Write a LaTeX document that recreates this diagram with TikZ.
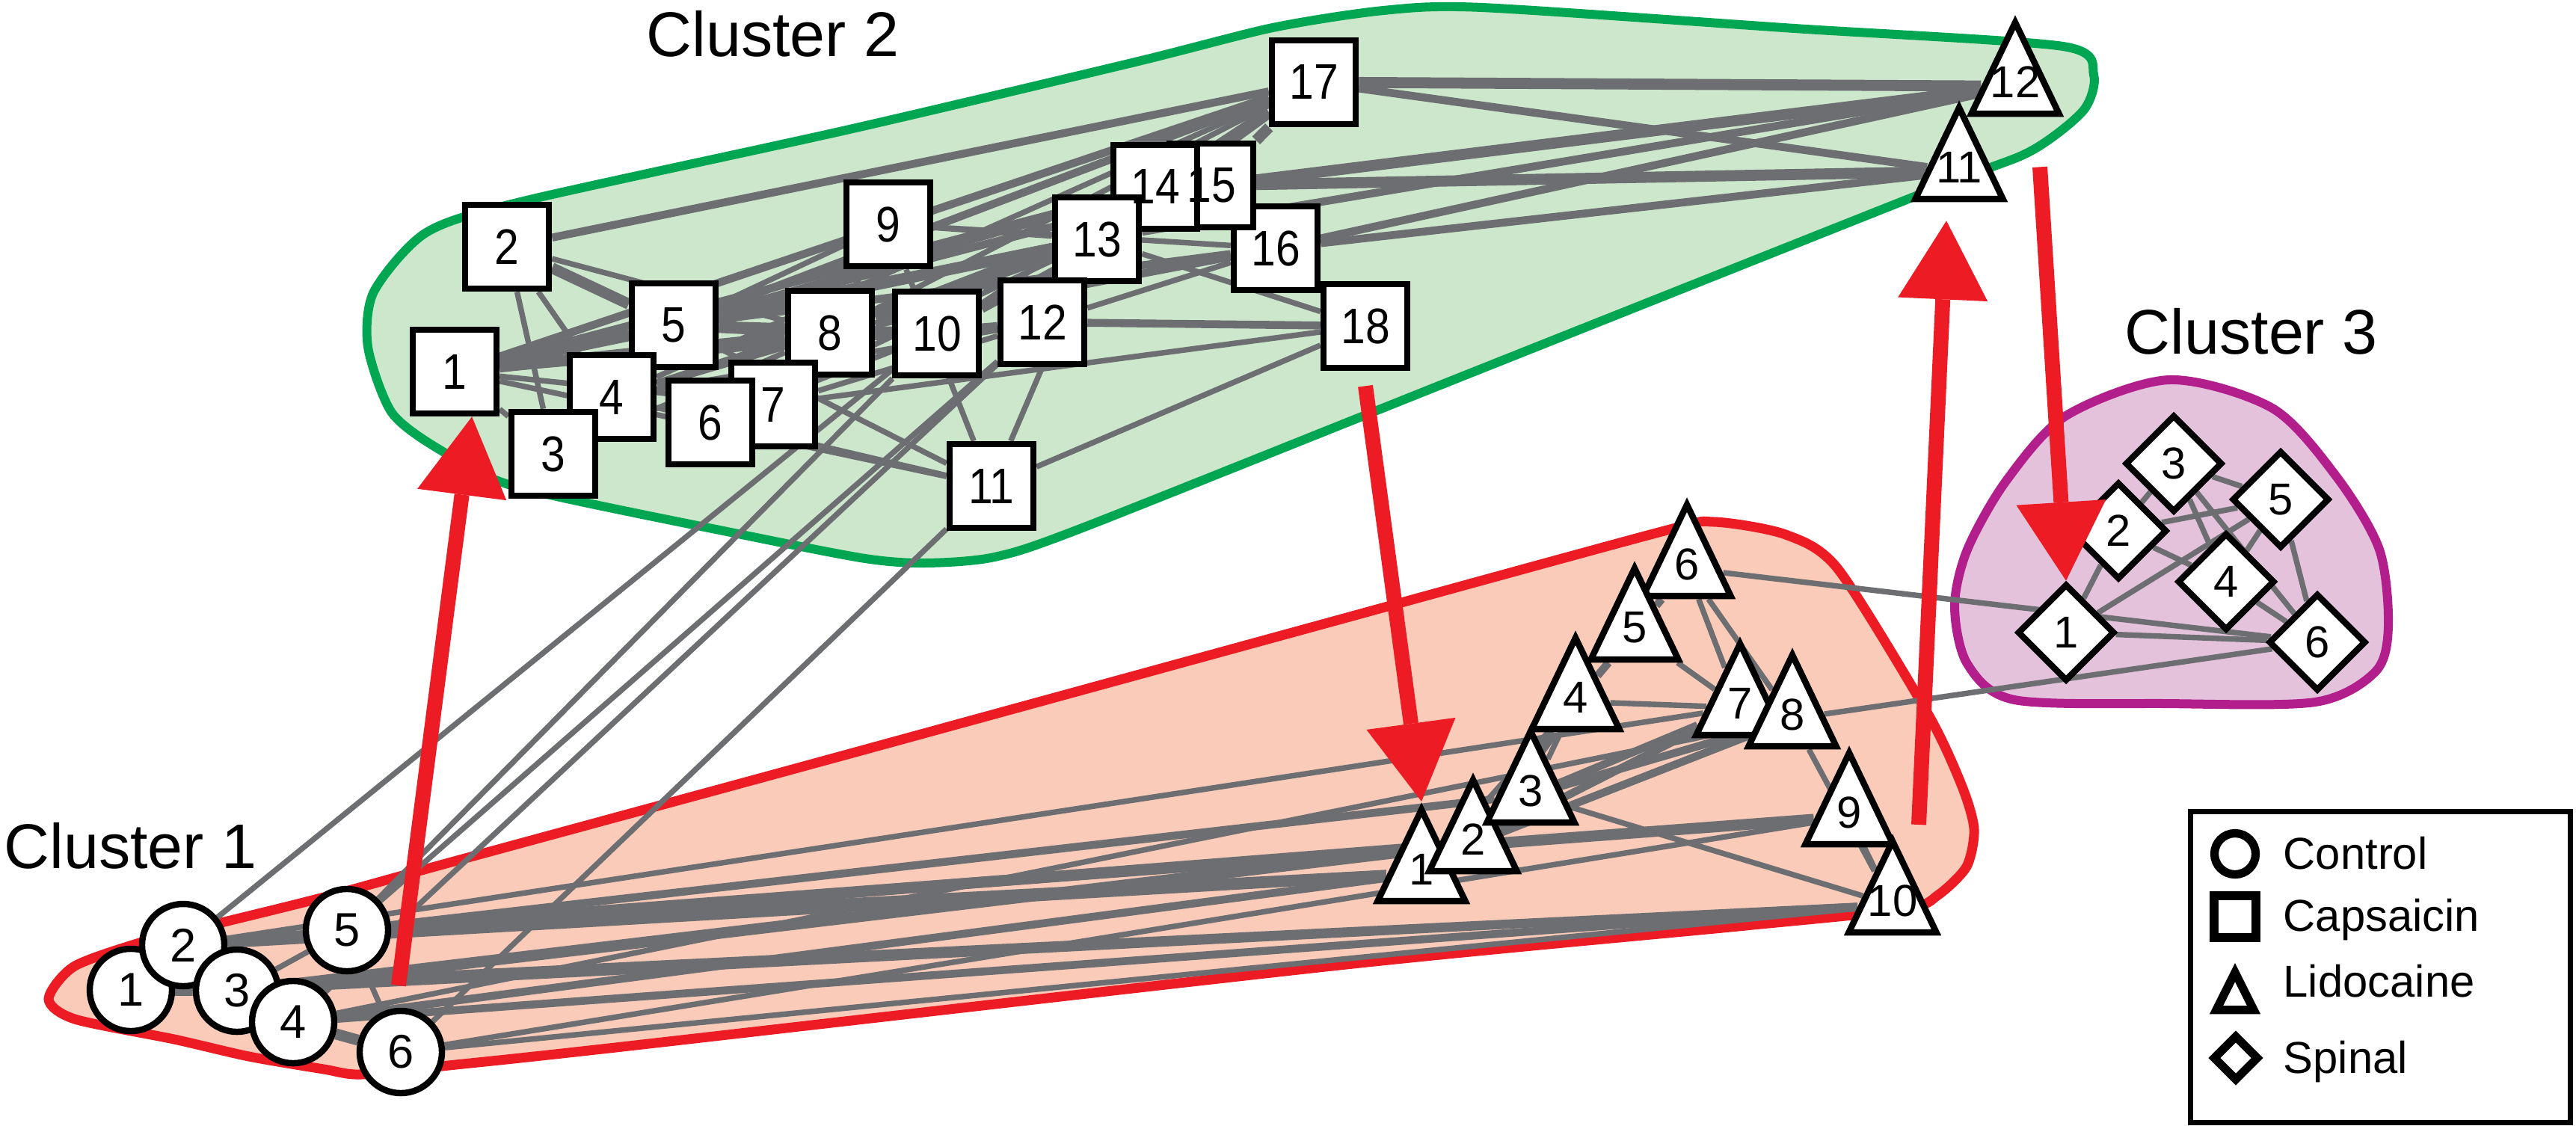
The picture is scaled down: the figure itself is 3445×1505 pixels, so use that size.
\documentclass[tikz,border=0pt]{standalone}
\usepackage{fontspec}
\setmainfont{Liberation Sans}
\usetikzlibrary{shapes.geometric,arrows.meta,calc}
\definecolor{linkgray}{RGB}{109,110,113}
\definecolor{grn}{RGB}{0,166,81}
\definecolor{grnfill}{RGB}{205,231,204}
\definecolor{rd}{RGB}{237,28,36}
\definecolor{rdfill}{RGB}{249,203,184}
\definecolor{prp}{RGB}{178,31,140}
\definecolor{prpfill}{RGB}{228,194,219}
\pgfdeclarelayer{hulls}
\pgfdeclarelayer{links}
\pgfsetlayers{hulls,links,main}
\tikzstyle{ctlnode} = [circle, draw=black, line width=2.4pt, fill=white,
    minimum size=1.1cm, inner sep=0pt, font=\fontsize{18}{18}\selectfont]
\tikzstyle{capbox} = [rectangle, draw=black, line width=2.4pt, fill=white,
    minimum size=1.12cm, inner sep=0pt]
\tikzstyle{caplbl} = [inner sep=0pt, xscale=0.88, font=\fontsize{19}{19}\selectfont]
\tikzstyle{lidnode} = [isosceles triangle, isosceles triangle stretches, shape border rotate=90,
    draw=black, line width=2.4pt, fill=white, minimum width=1.17cm, minimum height=1.22cm,
    inner sep=0pt, anchor=apex]
\tikzstyle{lidlbl} = [inner sep=0pt, font=\fontsize{17}{17}\selectfont]
\tikzstyle{spinode} = [diamond, aspect=1, draw=black, line width=2.4pt, fill=white,
    minimum size=1.3cm, inner sep=0pt, font=\fontsize{17}{17}\selectfont]
\tikzstyle{lnk} = [draw=linkgray, line width=2.1pt]
\tikzstyle{lnkmid} = [draw=linkgray, line width=3pt]
\tikzstyle{lnkbig} = [draw=linkgray, line width=4.2pt]
\tikzstyle{flow} = [draw=rd, line width=0.2cm, -{Triangle[length=1.05cm, width=1.2cm, line width=0pt]}]
\tikzstyle{clustertitle} = [anchor=base west, inner sep=0pt, font=\fontsize{24}{24}\selectfont]
\tikzstyle{keytxt} = [anchor=base west, inner sep=0pt, font=\fontsize{17}{17}\selectfont]
\tikzstyle{keysym} = [draw=black, line width=3.2pt, fill=white, inner sep=0pt]

\begin{document}
\begin{tikzpicture}[x=0.01cm, y=-0.01cm]
\useasboundingbox (0,0) rectangle (3445,1505);

% cluster outlines
\begin{pgfonlayer}{hulls}
\draw[draw=grn, fill=grnfill, line width=0.12cm] plot[smooth cycle, tension=0.45] coordinates {
    (700,269) (1136,173) (1518,83) (1702,37) (1850,14) (1982,10) (2400,38) (2759,62)
    (2800,100) (2786,148) (2714,203) (2580,255) (1964,500) (1450,705) (1330,745)
    (1237,753) (1157,747) (997,716) (690,651) (589,602) (524,552) (492,464) (500,390) (570,311)};
\draw[draw=rd, fill=rdfill, line width=0.13cm] plot[smooth cycle, tension=0.45] coordinates {
    (65,1336) (100,1292) (200,1257) (300,1233) (433,1200) (600,1154) (1100,1018) (1750,840)
    (2222,711) (2292,698) (2388,715) (2458,761) (2579,956) (2624,1052) (2640,1109)
    (2630,1159) (2592,1197) (2547,1216) (2324,1239) (1800,1290) (832,1400) (600,1425)
    (483,1437) (433,1430) (333,1413) (233,1390) (100,1363)};
\draw[draw=prp, fill=prpfill, line width=0.12cm] plot[smooth cycle, tension=0.5] coordinates {
    (2901,508) (3039,546) (3125,638) (3182,735) (3194,837) (3177,898) (3096,939)
    (2895,941) (2694,936) (2631,888) (2614,811) (2631,735) (2683,643) (2763,556)};
\end{pgfonlayer}

% titles
\node[clustertitle] (title1) at (5,1161) {Cluster 1};
\node[clustertitle] (title2) at (864,75) {Cluster 2};
\node[clustertitle] (title3) at (2841,473) {Cluster 3};

% control
\foreach \n/\x/\y in {1/175/1324, 2/245/1264, 3/317/1325, 4/392/1367, 5/464/1244, 6/536/1407}
    \node[ctlnode] (ctl\n) at (\x,\y) {\n};

% capsaicin
\foreach \n/\x/\y in {1/608/497, 2/678/330, 5/901/435, 4/818/531, 3/740/607, 8/1110/445,
        7/1034/541, 6/950/565, 9/1188/300, 10/1253/446, 11/1326/650, 16/1706/332,
        15/1620/248, 14/1545/250, 13/1467/320, 12/1394/431, 17/1757/110, 18/1826/436}
    \node[capbox] (cap\n) at (\x,\y) {};
\foreach \n in {1,...,18}
    \node[caplbl] (cap\n-t) at (cap\n) {\n};

% lidocaine
\foreach \n/\x/\y in {1/1901/1072, 2/1970/1032, 3/2047/967, 4/2107/842, 6/2256/664,
        5/2186/749, 7/2327/850, 8/2397/865, 9/2473/996, 10/2531/1114, 11/2620/133, 12/2695/19}
    \node[lidnode] (lid\n) at (\x,\y) {};
\foreach \n in {1,...,12}
    \node[lidlbl] (lid\n-t) at ($(lid\n.apex)!0.66!(lid\n.lower side)$) {\n};

% spinal
\foreach \n/\x/\y in {1/2763/846, 2/2833/710, 3/2907/620, 4/2977/778, 5/3050/668, 6/3099/859}
    \node[spinode] (spi\n) at (\x,\y) {\n};

% links
\begin{pgfonlayer}{links}
\foreach \a/\b in {cap2/cap3, cap2/cap4, cap2/cap8, cap1/cap3, cap1/cap7, cap1/cap11,
        cap9/cap5, cap9/cap13, cap9/cap16, cap9/cap11, cap9/cap8, cap18/cap13, cap18/cap11,
        cap18/cap7, cap18/cap16, cap11/cap13, cap11/cap5, cap11/cap6, cap11/cap4, cap17/cap4,
        cap17/cap8, cap4/cap13, cap6/cap13, cap7/cap12, cap12/cap16, cap10/cap14, cap3/cap8,
        cap12/cap13, cap6/cap10, cap4/cap12,
        ctl5/ctl6, ctl3/ctl5, ctl2/ctl3, ctl6/lid10, ctl6/lid9, ctl2/lid7, ctl4/lid8,
        lid6/lid7, lid6/lid8, lid5/lid7, lid4/lid7, lid4/lid3, lid3/lid10, lid8/lid10,
        lid9/lid10, lid1/lid4,
        ctl2/cap10, ctl5/cap10, ctl5/cap12, ctl4/cap12, ctl6/cap11, lid6/spi6, lid8/spi6,
        spi3/spi5, spi3/spi2, spi3/spi4, spi3/spi6, spi2/spi5, spi2/spi4, spi2/spi1,
        spi1/spi5, spi1/spi6, spi5/spi6, spi4/spi6, spi4/spi5}
    \draw[lnk] (\a) -- (\b);
\foreach \a/\b in {cap1/cap17, cap2/cap17, cap1/cap14, cap5/cap14, cap5/cap15, cap5/cap17,
        cap4/cap8, cap8/cap15, cap8/cap16, cap13/cap17, cap18/cap12, lid12/cap16, lid12/cap13,
        lid11/cap17, lid11/cap14, lid11/cap16, cap1/cap12, cap10/cap15, cap5/cap16,
        ctl4/lid10, ctl3/lid10, ctl5/lid2, ctl2/lid9, ctl4/lid1, ctl5/lid3, ctl1/lid10,
        lid5/lid6, lid4/lid5, lid3/lid8, lid2/lid7, lid2/lid8, lid3/lid7}
    \draw[lnkmid] (\a) -- (\b);
\foreach \a/\b in {cap2/cap5, cap1/cap5, cap1/cap8, cap5/cap8, cap5/cap13, cap8/cap13,
        cap17/cap14, cap17/cap15, cap5/cap10, lid12/cap17, lid12/cap15, lid11/cap15, cap1/cap13,
        ctl1/ctl3, ctl4/ctl6, ctl2/lid2, ctl5/lid1, ctl5/lid9, ctl2/lid1, ctl3/lid2, lid2/lid4}
    \draw[lnkbig] (\a) -- (\b);
\end{pgfonlayer}

% moves between clusters
\coordinate (flow1) at (533,1318);
\coordinate (flow3) at (2566,1103);
\draw[flow] (flow1) -- (cap1.291);
\draw[flow] ([yshift=-0.2cm]cap18.south) -- (lid1.apex);
\draw[flow] (flow3) -- ([xshift=-0.17cm, yshift=-0.25cm]lid11.lower side);
\draw[flow] ([xshift=0.33cm, yshift=-0.67cm]lid12.lower side) -- (spi1.north);

% legend
\draw[line width=2pt] (2929,1085) rectangle (3437,1501);
\node[keysym, circle, minimum size=0.55cm] (key-ctl) at (2989,1142) {};
\node[keysym, rectangle, minimum size=0.56cm] (key-cap) at (2989,1226) {};
\node[keysym, isosceles triangle, isosceles triangle stretches, shape border rotate=90,
    minimum width=0.5cm, minimum height=0.5cm, anchor=apex] (key-lid) at (2989,1286) {};
\node[keysym, diamond, aspect=1, minimum size=0.62cm] (key-spi) at (2990,1415) {};
\node[keytxt] (key-ctl-t) at (3053,1162) {Control};
\node[keytxt] (key-cap-t) at (3053,1245) {Capsaicin};
\node[keytxt] (key-lid-t) at (3053,1333) {Lidocaine};
\node[keytxt] (key-spi-t) at (3053,1435) {Spinal};
\end{tikzpicture}
\end{document}
